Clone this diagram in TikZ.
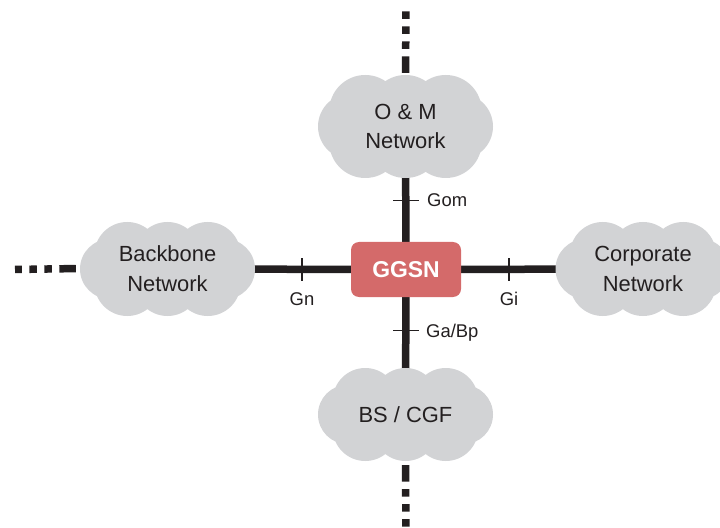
\documentclass[tikz,border=0pt]{standalone}
\usepackage{fontspec}
\setmainfont{Liberation Sans}
\usetikzlibrary{backgrounds}
\usetikzlibrary{positioning}

\definecolor{cloudgray}{RGB}{210,211,213}
\definecolor{ggsnred}{RGB}{212,106,106}
\definecolor{inkblack}{RGB}{35,31,32}

% cloud body round a named node: #1 node, #2 width, #3 height (bp)
\newcommand{\netcloud}[3]{%
  \pgfmathsetmacro{\cloudrt}{0.35*#3}\pgfmathsetmacro{\cloudyt}{0.5*#3-\cloudrt}%
  \pgfmathsetmacro{\cloudxt}{0.23*#2}%
  \pgfmathsetmacro{\cloudrs}{0.32*#3}\pgfmathsetmacro{\cloudxs}{0.5*#2-\cloudrs}%
  \fill[cloudgray,shift={(#1.center)}]
    (-\cloudxt,-\cloudyt) circle[radius=\cloudrt bp] (0,-\cloudyt) circle[radius=\cloudrt bp]
    (\cloudxt,-\cloudyt) circle[radius=\cloudrt bp]
    (-\cloudxt,\cloudyt) circle[radius=\cloudrt bp] (0,\cloudyt) circle[radius=\cloudrt bp]
    (\cloudxt,\cloudyt) circle[radius=\cloudrt bp]
    (-\cloudxs,0) circle[radius=\cloudrs bp] (\cloudxs,0) circle[radius=\cloudrs bp];
}

\begin{document}
\begin{tikzpicture}[x=1bp,y=-1bp,
  net/.style={rectangle,text=inkblack,align=center,font=\fontsize{22}{30}\selectfont,inner sep=0pt},
  gw/.style={rectangle,rounded corners=8bp,fill=ggsnred,text=white,font=\fontsize{23}{27}\selectfont\bfseries,minimum width=110bp,minimum height=55bp},
  link/.style={line width=7.5bp,color=inkblack},
  tick/.style={line width=1.5bp,color=inkblack},
  far/.style={line width=7.5bp,color=inkblack,dash pattern=on 16.5bp off 7.5bp on 7.5bp off 7.5bp on 7.5bp off 7.5bp on 7.5bp off 60bp},
  iflabel/.style={text=inkblack,font=\fontsize{18.5}{22}\selectfont,inner sep=0pt}]
\useasboundingbox (0,0) rectangle (720,528);
% gateway and networks
\node[gw] (ggsn) at (406,269.5) {GGSN};
\node[net,minimum width=175bp,minimum height=103bp] (om) at (405.5,126.5) {O \& M\\Network};
\node[net,minimum width=175bp,minimum height=94bp] (backbone) at (167.5,269) {Backbone\\Network};
\node[net,minimum width=175bp,minimum height=94bp] (corp) at (643,269) {Corporate\\Network};
\node[net,minimum width=175bp,minimum height=93bp] (bscgf) at (405.5,414.5) {BS / CGF};
\coordinate (omEnd) at (406,10);
\coordinate (bbEnd) at (15,269.5);
\coordinate (bsEnd) at (406,540);
\begin{scope}[on background layer]
\draw[link] (ggsn.center) -- (om.center);
\draw[link] (ggsn.center) -- (backbone.center);
\draw[link] (ggsn.center) -- (corp.center);
\draw[link] (ggsn.center) -- (bscgf.center);
\netcloud{om}{175}{103}
\netcloud{backbone}{175}{94}
\netcloud{corp}{175}{94}
\netcloud{bscgf}{175}{93}
\end{scope}
\draw[far,shorten <=2bp] (om.north) -- (omEnd);
\draw[far,shorten <=4bp] ([yshift=0.5bp]backbone.west) -- (bbEnd);
\draw[far,shorten <=4bp] (bscgf.south) -- (bsEnd);
% interface marks
\coordinate (gn) at (302,269.5);
\coordinate (gi) at (509,269.5);
\coordinate (gom) at (406,200.5);
\coordinate (gabp) at (406,330.5);
\draw[tick] ([yshift=-11bp]gn) -- ([yshift=11bp]gn);
\draw[tick] ([yshift=-11bp]gi) -- ([yshift=11bp]gi);
\draw[tick] ([xshift=-13bp]gom) -- ([xshift=13bp]gom);
\draw[tick] ([xshift=-13bp]gabp) -- ([xshift=13bp]gabp);
\node[iflabel,anchor=base] (gnlab) at (302,305) {Gn};
\node[iflabel,anchor=base] (gilab) at (509,305) {Gi};
\node[iflabel,anchor=base west] (gomlab) at (427,207) {Gom};
\node[iflabel,anchor=base west] (gabplab) at (426,337) {Ga/Bp};
\end{tikzpicture}
\end{document}
